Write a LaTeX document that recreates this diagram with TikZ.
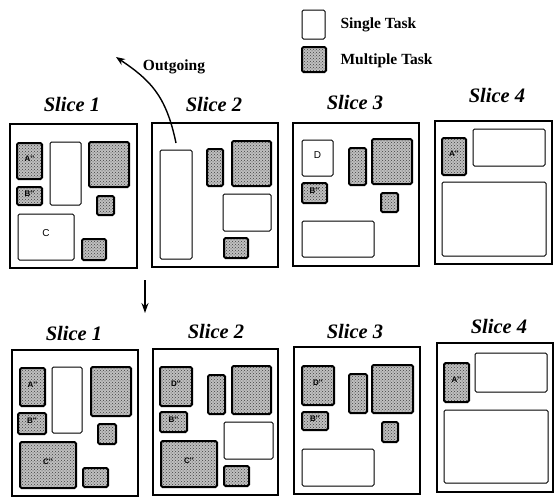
\documentclass[tikz,border=0pt]{standalone}
\usepackage{fontspec}
\setmainfont{Liberation Serif}
\newfontfamily\lblfont{Liberation Sans}
\usetikzlibrary{fit,patterns,arrows.meta}
\begin{document}
\begin{tikzpicture}[x=1pt,y=-1pt,
  frame/.style={draw, line width=1.2pt, inner sep=0pt},
  single/.style={draw, line width=1pt, rounded corners=1.5pt, inner sep=0pt, fill=white, font=\lblfont\fontsize{10}{12}\selectfont},
  multi/.style={draw, line width=2pt, rounded corners=1.5pt, inner sep=0pt,
     preaction={fill=gray!50}, pattern=crosshatch dots, pattern color=black!75,
     font=\lblfont\bfseries\fontsize{8}{9}\selectfont},
  title/.style={font=\bfseries\itshape\fontsize{20.5}{24}\selectfont},
  legend/.style={font=\bfseries\fontsize{15.5}{18}\selectfont, anchor=west}]
\useasboundingbox (0,0) rectangle (557,498);

% legend
\node[single, fit={(302,10) (325,39)}] (lgs) {};
\node[multi, fit={(302,47) (326,72)}] (lgm) {};
\node[legend] (lgst) at (337,25) {Single Task};
\node[legend] (lgmt) at (337,61) {Multiple Task};

% titles
\node[title] (t1) at (72,104) {Slice 1};
\node[title] (t2) at (214,104) {Slice 2};
\node[title] (t3) at (355,102) {Slice 3};
\node[title] (t4) at (497,95) {Slice 4};
\node[title] (b1) at (74,333) {Slice 1};
\node[title] (b2) at (216,331) {Slice 2};
\node[title] (b3) at (355,331) {Slice 3};
\node[title] (b4) at (499,326) {Slice 4};

% ---------- top row ----------
\node[frame, fit={(10,124) (137,268)}] (f1) {};
\node[multi, fit={(17,143) (42,179)}] (t1a) {A''};
\node[single, fit={(50,142) (81,205)}] (t1w) {};
\node[multi, fit={(89,142) (129,187)}] (t1big) {};
\node[multi, fit={(17,187) (42,205)}] (t1b) {B''};
\node[multi, fit={(97,196) (114,215)}] (t1s) {};
\node[single, fit={(18,214) (74,260)}] (t1c) {C};
\node[multi, fit={(82,239) (106,260)}] (t1s2) {};

\node[frame, fit={(152,123) (278,267)}] (f2) {};
\node[single, fit={(160,150) (192,259)}] (t2tall) {};
\node[multi, fit={(207,149) (223,186)}] (t2n) {};
\node[multi, fit={(232,141) (271,186)}] (t2big) {};
\node[single, fit={(223,194) (271,231)}] (t2w) {};
\node[multi, fit={(224,238) (248,258)}] (t2s) {};

\node[frame, fit={(293,123) (419,266)}] (f3) {};
\node[single, fit={(302,140) (333,176)}] (t3d) {D};
\node[multi, fit={(302,183) (327,203)}] (t3b) {B''};
\node[multi, fit={(349,148) (366,185)}] (t3n) {};
\node[multi, fit={(372,139) (412,184)}] (t3big) {};
\node[multi, fit={(381,193) (398,212)}] (t3s) {};
\node[single, fit={(302,221) (374,257)}] (t3w) {};

\node[frame, fit={(435,121) (552,264)}] (f4) {};
\node[multi, fit={(442,138) (466,175)}] (t4a) {A''};
\node[single, fit={(473,129) (545,166)}] (t4w) {};
\node[single, fit={(442,182) (546,256)}] (t4big) {};

% ---------- bottom row ----------
\node[frame, fit={(12,350) (138,496)}] (g1) {};
\node[multi, fit={(20,368) (45,406)}] (b1a) {A''};
\node[single, fit={(52,367) (82,433)}] (b1w) {};
\node[multi, fit={(91,367) (131,416)}] (b1big) {};
\node[multi, fit={(18,413) (46,434)}] (b1b) {B''};
\node[multi, fit={(98,424) (116,444)}] (b1s) {};
\node[multi, fit={(20,442) (76,488)}] (b1c) {C''};
\node[multi, fit={(83,468) (108,487)}] (b1s2) {};

\node[frame, fit={(153,349) (278,495)}] (g2) {};
\node[multi, fit={(160,367) (192,406)}] (b2d) {D''};
\node[multi, fit={(208,375) (225,414)}] (b2n) {};
\node[multi, fit={(232,366) (271,414)}] (b2big) {};
\node[multi, fit={(160,412) (187,432)}] (b2b) {B''};
\node[single, fit={(224,422) (273,459)}] (b2w) {};
\node[multi, fit={(161,441) (217,487)}] (b2c) {C''};
\node[multi, fit={(224,466) (249,486)}] (b2s) {};

\node[frame, fit={(294,347) (420,494)}] (g3) {};
\node[multi, fit={(302,366) (334,405)}] (b3d) {D''};
\node[multi, fit={(349,374) (367,413)}] (b3n) {};
\node[multi, fit={(372,365) (413,413)}] (b3big) {};
\node[multi, fit={(302,412) (328,430)}] (b3b) {B''};
\node[multi, fit={(382,422) (398,442)}] (b3s) {};
\node[single, fit={(302,449) (374,486)}] (b3w) {};

\node[frame, fit={(437,343) (553,492)}] (g4) {};
\node[multi, fit={(444,363) (469,402)}] (b4a) {A''};
\node[single, fit={(475,353) (547,392)}] (b4w) {};
\node[single, fit={(444,410) (548,483)}] (b4big) {};

% ---------- arrows ----------
\coordinate (outS) at (176,143);
\coordinate (outE) at (116,57);
\draw[line width=1.4pt, -{Stealth[length=9pt,width=7pt]}] (outS) .. controls (166,95) and (150,80) .. (outE);
\node[font=\bfseries\fontsize{15.5}{18}\selectfont] (outlbl) at (174,67) {Outgoing};

\coordinate (dnS) at (145,280);
\coordinate (dnE) at (145,313);
\draw[line width=1.4pt, -{Stealth[length=10pt,width=7pt]}] (dnS) -- (dnE);
\end{tikzpicture}
\end{document}
